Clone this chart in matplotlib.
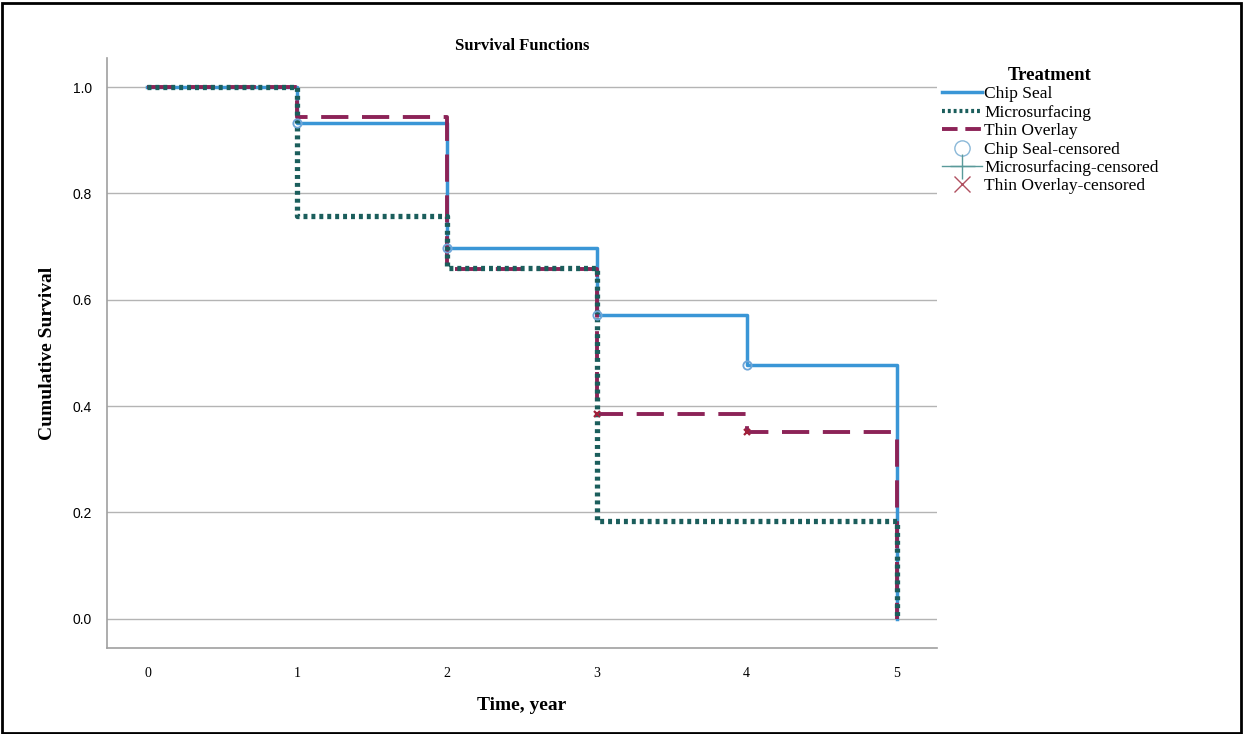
import matplotlib.pyplot as plt
import numpy as np
from matplotlib.lines import Line2D
from matplotlib.patches import Rectangle

# step data: survival level held from t[i] to t[i+1]
chip_t = [0, 1, 2, 3, 4, 5]
chip_s = [1.0, 0.933, 0.697, 0.572, 0.477, 0.0]
micro_t = [0, 1, 2, 3, 5]
micro_s = [1.0, 0.758, 0.659, 0.184, 0.0]
thin_t = [0, 1, 2, 3, 4, 5]
thin_s = [1.0, 0.943, 0.657, 0.386, 0.351, 0.0]

# censored marks
chip_cens_t = [1, 2, 3, 4]
chip_cens_s = [0.933, 0.697, 0.572, 0.477]
thin_cens_t = [3, 4]
thin_cens_s = [0.386, 0.351]

x_ticks = [0, 1, 2, 3, 4, 5]
y_ticks = [0.0, 0.2, 0.4, 0.6, 0.8, 1.0]

c_chip = '#3a96d6'
c_micro = '#1b5e5c'
c_thin = '#8c2357'
serif = 'Liberation Serif'

fig = plt.figure(figsize=(12.43, 7.34), dpi=100, facecolor='white')
fig.patches.append(Rectangle((0.002, 0.002), 0.996, 0.994, transform=fig.transFigure,
                             fill=False, edgecolor='black', linewidth=2))
ax = fig.add_axes([0.0861, 0.1172, 0.6677, 0.804])

for v in y_ticks:
    ax.axhline(v, color='#b4b4b4', linewidth=1, zorder=0)

ax.step(chip_t, chip_s, where='post', color=c_chip, linewidth=2.5, zorder=2)
ax.step(thin_t, thin_s, where='post', color=c_thin, linewidth=2.8,
        linestyle=(0, (7, 3.5)), zorder=3)
ax.step(micro_t, micro_s, where='post', color=c_micro, linewidth=3.8,
        linestyle=(0, (0.75, 0.75)), zorder=4)

ax.plot(chip_cens_t, chip_cens_s, 'o', markersize=6, markerfacecolor='none',
        markeredgecolor='#6fa6d8', markeredgewidth=1.3, zorder=5)
ax.plot(thin_cens_t, thin_cens_s, 'x', markersize=5, color='#a0203a',
        markeredgewidth=1.6, zorder=5)

ax.set_xlim(-0.27, 5.27)
ax.set_ylim(-0.055, 1.055)
ax.set_xticks(x_ticks)
ax.set_yticks(y_ticks)
ax.set_yticklabels([f'{v:.1f}' for v in y_ticks], fontfamily='Liberation Sans', fontsize=10)
ax.set_xticklabels([str(v) for v in x_ticks], fontfamily=serif, fontsize=10)
ax.tick_params(axis='both', length=0, pad=14)
ax.tick_params(axis='y', pad=11)

for s in ['top', 'right']:
    ax.spines[s].set_visible(False)
for s in ['left', 'bottom']:
    ax.spines[s].set_color('#a0a0a0')
    ax.spines[s].set_linewidth(1.2)

ax.set_title('Survival Functions', fontfamily=serif, fontweight='bold', fontsize=12, pad=6)
ax.set_xlabel('Time, year', fontfamily=serif, fontweight='bold', fontsize=14, labelpad=12)
ax.set_ylabel('Cumulative Survival', fontfamily=serif, fontweight='bold', fontsize=14, labelpad=12)

handles = [
    Line2D([], [], color=c_chip, linewidth=2.5),
    Line2D([], [], color=c_micro, linewidth=3, linestyle=(0, (0.7, 0.7))),
    Line2D([], [], color=c_thin, linewidth=2.8, linestyle=(0, (4, 2))),
    Line2D([], [], marker='o', linestyle='none', markersize=11, markerfacecolor='none',
           markeredgecolor='#8ab8d8', markeredgewidth=1),
    Line2D([], [], marker='+', color='#5a9a9a', linewidth=1, markersize=18, markeredgewidth=1),
    Line2D([], [], marker='x', linestyle='none', markersize=12, color='#b05060', markeredgewidth=1),
]
labels = ['Chip Seal', 'Microsurfacing', 'Thin Overlay', 'Chip Seal-censored',
          'Microsurfacing-censored', 'Thin Overlay-censored']
leg = fig.legend(handles, labels, loc='upper left', bbox_to_anchor=(0.745, 0.93),
                 frameon=False, title='Treatment', handlelength=2.3, handletextpad=0.15,
                 labelspacing=0.13, prop={'family': serif, 'size': 12.5},
                 title_fontproperties={'family': serif, 'weight': 'bold', 'size': 13.5})

fig.savefig('out.png', dpi=100, facecolor='white')
